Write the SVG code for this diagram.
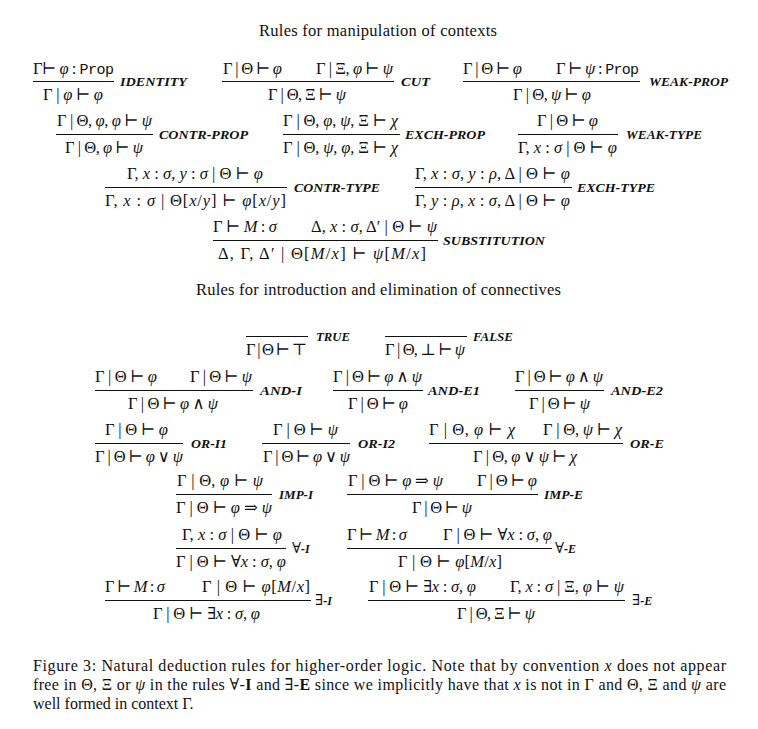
<svg xmlns="http://www.w3.org/2000/svg" width="758" height="729" viewBox="0 0 758 729">
<style>
.bg{fill:#fff}
.m{font-family:"Liberation Serif","DejaVu Serif",serif;font-size:16.5px;fill:#111}
.i{font-style:italic}
.tt{font-family:"Liberation Mono","DejaVu Sans Mono",monospace;font-size:15px;font-style:normal}
.lb{font-family:"Liberation Serif","DejaVu Serif",serif;font-size:12px;font-weight:bold;font-style:italic;fill:#111}
.lbs{font-family:"Liberation Serif","DejaVu Serif",serif;font-size:15px;font-weight:normal;font-style:normal}
.bar{stroke:#111;stroke-width:1}
.hd{font-family:"Liberation Serif","DejaVu Serif",serif;font-size:16.5px;fill:#111}
.cap{font-family:"Liberation Serif","DejaVu Serif",serif;font-size:16px;fill:#111}
.b{font-weight:bold}
</style>
<rect class="bg" x="0" y="0" width="758" height="729"/>
<text class="hd" x="259" y="36" textLength="238">Rules for manipulation of contexts</text>

<g id="identity">
<text class="m" x="33" y="74" textLength="81">Γ⊢ <tspan class="i">φ</tspan> : <tspan class="tt">Prop</tspan></text>
<line class="bar" x1="33" y1="81.5" x2="114" y2="81.5"/>
<text class="m" x="43" y="100" textLength="60">Γ | <tspan class="i">φ</tspan> ⊢ <tspan class="i">φ</tspan></text>
<text class="lb" x="120" y="86" textLength="67" lengthAdjust="spacingAndGlyphs">IDENTITY</text>
</g>
<g id="cut">
<text class="m" x="223" y="74" textLength="59">Γ | Θ ⊢ <tspan class="i">φ</tspan></text>
<text class="m" x="316" y="74" textLength="77">Γ | Ξ, <tspan class="i">φ</tspan> ⊢ <tspan class="i">ψ</tspan></text>
<line class="bar" x1="222" y1="81.5" x2="394" y2="81.5"/>
<text class="m" x="268" y="100" textLength="78">Γ | Θ, Ξ ⊢ <tspan class="i">ψ</tspan></text>
<text class="lb" x="401" y="86" textLength="29" lengthAdjust="spacingAndGlyphs">CUT</text>
</g>
<g id="weak-prop">
<text class="m" x="463" y="74" textLength="59">Γ | Θ ⊢ <tspan class="i">φ</tspan></text>
<text class="m" x="556" y="74" textLength="83">Γ ⊢ <tspan class="i">ψ</tspan> : <tspan class="tt">Prop</tspan></text>
<line class="bar" x1="463" y1="81.5" x2="640" y2="81.5"/>
<text class="m" x="513" y="100" textLength="78">Γ | Θ, <tspan class="i">ψ</tspan> ⊢ <tspan class="i">φ</tspan></text>
<text class="lb" x="649" y="86" textLength="79" lengthAdjust="spacingAndGlyphs">WEAK-PROP</text>
</g>

<g id="contr-prop">
<text class="m" x="57" y="126" textLength="95">Γ | Θ, <tspan class="i">φ</tspan>, <tspan class="i">φ</tspan> ⊢ <tspan class="i">ψ</tspan></text>
<line class="bar" x1="56" y1="134.5" x2="153" y2="134.5"/>
<text class="m" x="65" y="153" textLength="78">Γ | Θ, <tspan class="i">φ</tspan> ⊢ <tspan class="i">ψ</tspan></text>
<text class="lb" x="159" y="139" textLength="89" lengthAdjust="spacingAndGlyphs">CONTR-PROP</text>
</g>
<g id="exch-prop">
<text class="m" x="283" y="126" textLength="115">Γ | Θ, <tspan class="i">φ</tspan>, <tspan class="i">ψ</tspan>, Ξ ⊢ <tspan class="i">χ</tspan></text>
<line class="bar" x1="283" y1="134.5" x2="400" y2="134.5"/>
<text class="m" x="283" y="153" textLength="115">Γ | Θ, <tspan class="i">ψ</tspan>, <tspan class="i">φ</tspan>, Ξ ⊢ <tspan class="i">χ</tspan></text>
<text class="lb" x="405" y="139" textLength="80" lengthAdjust="spacingAndGlyphs">EXCH-PROP</text>
</g>
<g id="weak-type">
<text class="m" x="537" y="126" textLength="61">Γ | Θ ⊢ <tspan class="i">φ</tspan></text>
<line class="bar" x1="518" y1="134.5" x2="618" y2="134.5"/>
<text class="m" x="518" y="153" textLength="99">Γ, <tspan class="i">x</tspan> : <tspan class="i">σ</tspan> | Θ ⊢ <tspan class="i">φ</tspan></text>
<text class="lb" x="626" y="139" textLength="76" lengthAdjust="spacingAndGlyphs">WEAK-TYPE</text>
</g>

<g id="contr-type">
<text class="m" x="127" y="179" textLength="136">Γ, <tspan class="i">x</tspan> : <tspan class="i">σ</tspan>, <tspan class="i">y</tspan> : <tspan class="i">σ</tspan> | Θ ⊢ <tspan class="i">φ</tspan></text>
<line class="bar" x1="105" y1="187.5" x2="287" y2="187.5"/>
<text class="m" x="105" y="206" textLength="181">Γ, <tspan class="i">x</tspan> : <tspan class="i">σ</tspan> | Θ[<tspan class="i">x</tspan>/<tspan class="i">y</tspan>] ⊢ <tspan class="i">φ</tspan>[<tspan class="i">x</tspan>/<tspan class="i">y</tspan>]</text>
<text class="lb" x="294" y="192" textLength="86" lengthAdjust="spacingAndGlyphs">CONTR-TYPE</text>
</g>
<g id="exch-type">
<text class="m" x="415" y="179" textLength="155">Γ, <tspan class="i">x</tspan> : <tspan class="i">σ</tspan>, <tspan class="i">y</tspan> : <tspan class="i">ρ</tspan>, Δ | Θ ⊢ <tspan class="i">φ</tspan></text>
<line class="bar" x1="415" y1="187.5" x2="572" y2="187.5"/>
<text class="m" x="415" y="206" textLength="155">Γ, <tspan class="i">y</tspan> : <tspan class="i">ρ</tspan>, <tspan class="i">x</tspan> : <tspan class="i">σ</tspan>, Δ | Θ ⊢ <tspan class="i">φ</tspan></text>
<text class="lb" x="577" y="192" textLength="78" lengthAdjust="spacingAndGlyphs">EXCH-TYPE</text>
</g>

<g id="substitution">
<text class="m" x="213" y="232" textLength="64">Γ ⊢ <tspan class="i">M</tspan> : <tspan class="i">σ</tspan></text>
<text class="m" x="311" y="232" textLength="126">Δ, <tspan class="i">x</tspan> : <tspan class="i">σ</tspan>, Δ′ | Θ ⊢ <tspan class="i">ψ</tspan></text>
<line class="bar" x1="213" y1="240.5" x2="438" y2="240.5"/>
<text class="m" x="218" y="259" textLength="208">Δ, Γ, Δ′ | Θ[<tspan class="i">M</tspan>/<tspan class="i">x</tspan>] ⊢ <tspan class="i">ψ</tspan>[<tspan class="i">M</tspan>/<tspan class="i">x</tspan>]</text>
<text class="lb" x="443" y="245" textLength="102" lengthAdjust="spacingAndGlyphs">SUBSTITUTION</text>
</g>

<text class="hd" x="196" y="295" textLength="365">Rules for introduction and elimination of connectives</text>

<g id="true">
<line class="bar" x1="246" y1="336.5" x2="308" y2="336.5"/>
<text class="m" x="246" y="355" textLength="61">Γ | Θ ⊢ ⊤</text>
<text class="lb" x="316" y="341" textLength="34" lengthAdjust="spacingAndGlyphs">TRUE</text>
</g>
<g id="false">
<line class="bar" x1="385" y1="336.5" x2="467" y2="336.5"/>
<text class="m" x="385" y="355" textLength="80">Γ | Θ, ⊥ ⊢ <tspan class="i">ψ</tspan></text>
<text class="lb" x="473" y="341" textLength="40" lengthAdjust="spacingAndGlyphs">FALSE</text>
</g>

<g id="and-i">
<text class="m" x="95" y="382" textLength="62">Γ | Θ ⊢ <tspan class="i">φ</tspan></text>
<text class="m" x="190" y="382" textLength="62">Γ | Θ ⊢ <tspan class="i">ψ</tspan></text>
<line class="bar" x1="95" y1="390.5" x2="253" y2="390.5"/>
<text class="m" x="128" y="409" textLength="90">Γ | Θ ⊢ <tspan class="i">φ</tspan> ∧ <tspan class="i">ψ</tspan></text>
<text class="lb" x="260" y="395" textLength="42" lengthAdjust="spacingAndGlyphs">AND-I</text>
</g>
<g id="and-e1">
<text class="m" x="333" y="382" textLength="89">Γ | Θ ⊢ <tspan class="i">φ</tspan> ∧ <tspan class="i">ψ</tspan></text>
<line class="bar" x1="333" y1="390.5" x2="423" y2="390.5"/>
<text class="m" x="348" y="409" textLength="60">Γ | Θ ⊢ <tspan class="i">φ</tspan></text>
<text class="lb" x="428" y="395" textLength="52" lengthAdjust="spacingAndGlyphs">AND-E1</text>
</g>
<g id="and-e2">
<text class="m" x="515" y="382" textLength="88">Γ | Θ ⊢ <tspan class="i">φ</tspan> ∧ <tspan class="i">ψ</tspan></text>
<line class="bar" x1="515" y1="390.5" x2="604" y2="390.5"/>
<text class="m" x="529" y="409" textLength="61">Γ | Θ ⊢ <tspan class="i">ψ</tspan></text>
<text class="lb" x="611" y="395" textLength="52" lengthAdjust="spacingAndGlyphs">AND-E2</text>
</g>

<g id="or-i1">
<text class="m" x="105" y="435" textLength="63">Γ | Θ ⊢ <tspan class="i">φ</tspan></text>
<line class="bar" x1="95" y1="443.5" x2="183" y2="443.5"/>
<text class="m" x="95" y="462" textLength="88">Γ | Θ ⊢ <tspan class="i">φ</tspan> ∨ <tspan class="i">ψ</tspan></text>
<text class="lb" x="191" y="448" textLength="36" lengthAdjust="spacingAndGlyphs">OR-I1</text>
</g>
<g id="or-i2">
<text class="m" x="273" y="435" textLength="65">Γ | Θ ⊢ <tspan class="i">ψ</tspan></text>
<line class="bar" x1="262" y1="443.5" x2="350" y2="443.5"/>
<text class="m" x="263" y="462" textLength="87">Γ | Θ ⊢ <tspan class="i">φ</tspan> ∨ <tspan class="i">ψ</tspan></text>
<text class="lb" x="358" y="448" textLength="37" lengthAdjust="spacingAndGlyphs">OR-I2</text>
</g>
<g id="or-e">
<text class="m" x="429" y="435" textLength="86">Γ | Θ, <tspan class="i">φ</tspan> ⊢ <tspan class="i">χ</tspan></text>
<text class="m" x="543" y="435" textLength="79">Γ | Θ, <tspan class="i">ψ</tspan> ⊢ <tspan class="i">χ</tspan></text>
<line class="bar" x1="429" y1="443.5" x2="623" y2="443.5"/>
<text class="m" x="473" y="462" textLength="104">Γ | Θ, <tspan class="i">φ</tspan> ∨ <tspan class="i">ψ</tspan> ⊢ <tspan class="i">χ</tspan></text>
<text class="lb" x="630" y="448" textLength="34" lengthAdjust="spacingAndGlyphs">OR-E</text>
</g>

<g id="imp-i">
<text class="m" x="177" y="486" textLength="86">Γ | Θ, <tspan class="i">φ</tspan> ⊢ <tspan class="i">ψ</tspan></text>
<line class="bar" x1="176" y1="494.5" x2="272" y2="494.5"/>
<text class="m" x="176" y="513" textLength="96">Γ | Θ ⊢ <tspan class="i">φ</tspan> ⇒ <tspan class="i">ψ</tspan></text>
<text class="lb" x="279" y="499" textLength="34" lengthAdjust="spacingAndGlyphs">IMP-I</text>
</g>
<g id="imp-e">
<text class="m" x="348" y="486" textLength="95">Γ | Θ ⊢ <tspan class="i">φ</tspan> ⇒ <tspan class="i">ψ</tspan></text>
<text class="m" x="477" y="486" textLength="60">Γ | Θ ⊢ <tspan class="i">φ</tspan></text>
<line class="bar" x1="347" y1="494.5" x2="538" y2="494.5"/>
<text class="m" x="412" y="513" textLength="60">Γ | Θ ⊢ <tspan class="i">ψ</tspan></text>
<text class="lb" x="544" y="499" textLength="39" lengthAdjust="spacingAndGlyphs">IMP-E</text>
</g>

<g id="forall-i">
<text class="m" x="182" y="540" textLength="100">Γ, <tspan class="i">x</tspan> : <tspan class="i">σ</tspan> | Θ ⊢ <tspan class="i">φ</tspan></text>
<line class="bar" x1="176" y1="548.5" x2="286" y2="548.5"/>
<text class="m" x="176" y="567" textLength="110">Γ | Θ ⊢ ∀<tspan class="i">x</tspan> : <tspan class="i">σ</tspan>, <tspan class="i">φ</tspan></text>
<text class="lb" x="292" y="553"><tspan class="lbs">∀</tspan>-I</text>
</g>
<g id="forall-e">
<text class="m" x="347" y="540" textLength="60">Γ ⊢ <tspan class="i">M</tspan> : <tspan class="i">σ</tspan></text>
<text class="m" x="443" y="540" textLength="109">Γ | Θ ⊢ ∀<tspan class="i">x</tspan> : <tspan class="i">σ</tspan>, <tspan class="i">φ</tspan></text>
<line class="bar" x1="347" y1="548.5" x2="552" y2="548.5"/>
<text class="m" x="398" y="567" textLength="104">Γ | Θ ⊢ <tspan class="i">φ</tspan>[<tspan class="i">M</tspan>/<tspan class="i">x</tspan>]</text>
<text class="lb" x="555" y="553"><tspan class="lbs">∀</tspan>-E</text>
</g>

<g id="exists-i">
<text class="m" x="105" y="592" textLength="60">Γ ⊢ <tspan class="i">M</tspan> : <tspan class="i">σ</tspan></text>
<text class="m" x="202" y="592" textLength="108">Γ | Θ ⊢ <tspan class="i">φ</tspan>[<tspan class="i">M</tspan>/<tspan class="i">x</tspan>]</text>
<line class="bar" x1="105" y1="600.5" x2="311" y2="600.5"/>
<text class="m" x="153" y="619" textLength="107">Γ | Θ ⊢ ∃<tspan class="i">x</tspan> : <tspan class="i">σ</tspan>, <tspan class="i">φ</tspan></text>
<text class="lb" x="315" y="605"><tspan class="lbs">∃</tspan>-I</text>
</g>
<g id="exists-e">
<text class="m" x="369" y="592" textLength="107">Γ | Θ ⊢ ∃<tspan class="i">x</tspan> : <tspan class="i">σ</tspan>, <tspan class="i">φ</tspan></text>
<text class="m" x="510" y="592" textLength="114">Γ, <tspan class="i">x</tspan> : <tspan class="i">σ</tspan> | Ξ, <tspan class="i">φ</tspan> ⊢ <tspan class="i">ψ</tspan></text>
<line class="bar" x1="368" y1="600.5" x2="625" y2="600.5"/>
<text class="m" x="457" y="619" textLength="78">Γ | Θ, Ξ ⊢ <tspan class="i">ψ</tspan></text>
<text class="lb" x="632" y="605"><tspan class="lbs">∃</tspan>-E</text>
</g>

<g id="caption">
<text class="cap" x="33" y="671" textLength="693">Figure 3: Natural deduction rules for higher-order logic.  Note that by convention <tspan class="i">x</tspan> does not appear</text>
<text class="cap" x="33" y="690" textLength="693">free in Θ, Ξ or <tspan class="i">ψ</tspan> in the rules ∀-<tspan class="b">I</tspan> and ∃-<tspan class="b">E</tspan> since we implicitly have that <tspan class="i">x</tspan> is not in Γ and Θ, Ξ and <tspan class="i">ψ</tspan> are</text>
<text class="cap" x="33" y="709">well formed in context Γ.</text>
</g>
</svg>
